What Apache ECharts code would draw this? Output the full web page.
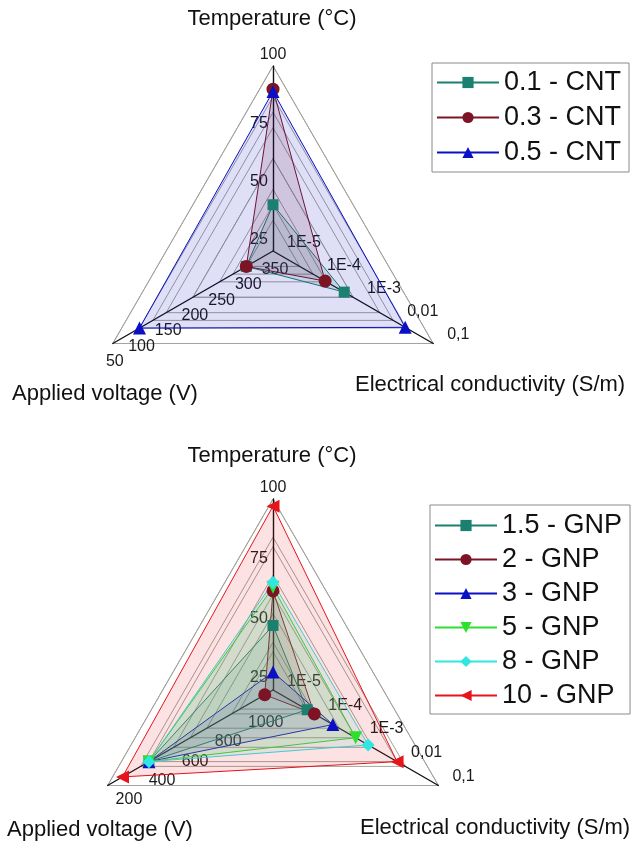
<!DOCTYPE html>
<html><head><meta charset="utf-8">
<script src="https://cdn.jsdelivr.net/npm/echarts@6/dist/echarts.min.js"></script>
<style>html,body{margin:0;padding:0;background:#fff}#c{width:631px;height:843px}</style>
</head><body><div id="c"></div>
<script>
// ---------- DATA: CNT panel (top) ----------
const cntNames = ['0.1 - CNT', '0.3 - CNT', '0.5 - CNT'];
const cntTemperature = [40, 90, 89];            // °C
const cntConductivity = [6e-4, 2e-4, 2e-2];     // S/m
const cntVoltage = [300, 300, 100];             // V

// ---------- DATA: GNP panel (bottom) ----------
const gnpNames = ['1.5 - GNP', '2 - GNP', '3 - GNP', '5 - GNP', '8 - GNP', '10 - GNP'];
const gnpTemperature = [47, 61.5, 27.5, 63, 65, 97];
const gnpConductivity = [6.7e-5, 1e-4, 2.8e-4, 1e-3, 2e-3, 1e-2];
const gnpVoltage = [450, 1150, 450, 450, 450, 290];

// ---------- AXES / TICKS ----------
const tempRange = [20, 100];
const tempTicks = [25, 50, 75, 100];
const condRange = [1e-5, 0.1];
const condTickLabels = ['1E-5', '1E-4', '1E-3', '0,01', '0,1'];
const cntVoltRange = [350, 50];     // centre -> outer vertex
const cntVoltTicks = [350, 300, 250, 200, 150, 100, 50];
const gnpVoltRange = [1200, 200];
const gnpVoltTicks = [1000, 800, 600, 400, 200];

const axisTitles = ['Temperature (\u00B0C)', 'Applied voltage (V)', 'Electrical conductivity (S/m)'];

// ---------- STYLE ----------
const FONT = '"Liberation Sans", Arial, sans-serif';
const cntColors = ['#1c8070', '#7d1426', '#0b10c4'];
const cntSymbols = ['rect', 'circle', 'triangle'];
const cntRot = [0, 0, 0];
const gnpColors = ['#1c8070', '#7d1426', '#0b10c4', '#2ee02e', '#30e6e0', '#e8141b'];
const gnpSymbols = ['rect', 'circle', 'triangle', 'triangle', 'diamond', 'triangle'];
const gnpRot = [0, 0, 0, 180, 0, 90];

const lg = v => Math.round(Math.log10(v) * 1e6) / 1e6;
const condMin = lg(condRange[0]);

const labelBase = {show: true, fontSize: 16, color: '#1a1a1a', fontFamily: FONT, margin: 10,
  showMinLabel: true, showMaxLabel: true};

function indicators(vRange, which, fmts, lo) {
  const off = {show: false};
  const mk = k => Object.assign({}, labelBase, lo[k], {formatter: fmts[k]});
  return [
    {name: '', min: tempRange[0], max: tempRange[1], axisLabel: which === 'T' ? mk('T') : off},
    {name: '', min: -vRange[0], max: -vRange[1], axisLabel: which === 'V' ? mk('V') : off},
    {name: '', min: lg(condRange[0]), max: lg(condRange[1]), axisLabel: which === 'C' ? mk('C') : off}
  ];
}

function radarComp(center, radius, splitNumber, vRange, which, fmts, lo, showAxis, showSplit) {
  return {
    center: center, radius: radius, startAngle: 90, shape: 'polygon', splitNumber: splitNumber,
    axisName: {show: false},
    axisLine: {show: showAxis, lineStyle: {color: '#111', width: 1.4}},
    axisTick: {show: false},
    axisLabel: {show: false},
    splitLine: {show: showSplit, lineStyle: {color: '#a4a49c', width: 1}},
    splitArea: {show: false},
    indicator: indicators(vRange, which, fmts, lo)
  };
}

const tempMax = tempTicks[tempTicks.length - 1];

function panel(cfg) {
  const fmts = {
    T: v => {
      const r = Math.round(v);
      if (tempTicks.indexOf(r) < 0) return '';
      return r === tempMax ? '{top|' + r + '}' : '{n|' + r + '}';
    },
    V: v => (cfg.voltTicks.indexOf(Math.round(-v)) >= 0 ? String(Math.round(-v)) : ''),
    C: v => condTickLabels[Math.round(v - condMin)] || ''
  };
  const base = cfg.radarBase;
  const lo = cfg.labelOpts;
  const radars = [
    radarComp(cfg.center, cfg.radius, 4, cfg.voltRange, 'C', fmts, lo, true, true),
    radarComp(cfg.center, cfg.radius, cfg.voltSplit, cfg.voltRange, 'V', fmts, lo, false, true),
    radarComp(cfg.center, cfg.radius, 16, cfg.voltRange, 'T', fmts, lo, false, false)
  ];
  const lines = cfg.names.map((n, i) => ({
    type: 'line', name: n, data: [], xAxisIndex: 0, yAxisIndex: 0,
    symbol: cfg.symbols[i], symbolRotate: cfg.rot[i], symbolSize: 11,
    itemStyle: {color: cfg.colors[i]}, lineStyle: {color: cfg.colors[i], width: 1}
  }));
  const series = cfg.names.map((n, i) => ({
    type: 'radar', name: n, radarIndex: base,
    symbol: cfg.symbols[i], symbolRotate: cfg.rot[i], symbolSize: cfg.symbols[i] === 'rect' ? 11 : 13,
    itemStyle: {color: cfg.colors[i]},
    lineStyle: {color: cfg.colors[i], width: 1},
    areaStyle: {color: cfg.colors[i], opacity: cfg.areaOpacity},
    data: [{name: n, value: [cfg.temps[i], -cfg.volts[i], Math.log10(cfg.conds[i])]}]
  }));
  const legend = {
    orient: 'vertical', left: cfg.legendLeft, top: cfg.legendTop, data: cfg.names,
    itemWidth: 62, itemHeight: 14, itemGap: cfg.legendGap,
    textStyle: {fontSize: 27, color: '#111', fontFamily: FONT},
    borderColor: '#8a8a8a', borderWidth: 1, padding: cfg.legendPad,
    backgroundColor: '#fff', selectedMode: false
  };
  return {radars, lines, series, legend};
}

const tempLabel = {
  margin: 6, align: 'center', verticalAlign: 'middle',
  rich: {
    n: {fontSize: 16, fontFamily: FONT, color: '#1a1a1a', padding: [0, 16, 0, 0]},
    top: {fontSize: 16, fontFamily: FONT, color: '#1a1a1a', padding: [0, 0, 22, 12]}
  }
};

const topPanel = panel({
  center: [273, 251], radius: 185, voltRange: cntVoltRange, voltSplit: 6, voltTicks: cntVoltTicks,
  names: cntNames, temps: cntTemperature, conds: cntConductivity, volts: cntVoltage,
  colors: cntColors, symbols: cntSymbols, rot: cntRot, areaOpacity: 0.13, radarBase: 0,
  legendLeft: 432, legendTop: 63, legendGap: 8, legendPad: [6, 8, 6, 4],
  labelOpts: {
    T: tempLabel,
    V: {align: 'center', verticalAlign: 'top', margin: 12, padding: [0, 8, 0, 0]},
    C: {align: 'left', verticalAlign: 'middle', margin: 10, padding: [0, 0, 0, 9]}
  }
});
const botPanel = panel({
  center: [273, 690], radius: 191, voltRange: gnpVoltRange, voltSplit: 5, voltTicks: gnpVoltTicks,
  names: gnpNames, temps: gnpTemperature, conds: gnpConductivity, volts: gnpVoltage,
  colors: gnpColors, symbols: gnpSymbols, rot: gnpRot, areaOpacity: 0.12, radarBase: 3,
  legendLeft: 430, legendTop: 505, legendGap: 7, legendPad: [7, 8, 5, 4],
  labelOpts: {
    T: tempLabel,
    V: {align: 'left', verticalAlign: 'middle', margin: 16},
    C: {align: 'left', verticalAlign: 'middle', margin: 10, padding: [0, 0, 0, 9]}
  }
});

function title(text, x, y, align) {
  return {type: 'text', x: x, y: y, z: 50,
    style: {text: text, fontSize: 22, fontFamily: FONT, fill: '#111', align: align || 'center', verticalAlign: 'middle'}};
}

const option = {
  animation: false,
  backgroundColor: '#fff',
  grid: {left: -200, top: -200, width: 10, height: 10, show: false},
  xAxis: {show: false, type: 'value'},
  yAxis: {show: false, type: 'value'},
  radar: topPanel.radars.concat(botPanel.radars),
  legend: [topPanel.legend, botPanel.legend],
  series: topPanel.lines.concat(botPanel.lines, topPanel.series, botPanel.series),
  graphic: [
    title(axisTitles[0], 272, 19),
    title(axisTitles[1], 105, 394),
    title(axisTitles[2], 355, 385, 'left'),
    title(axisTitles[0], 272, 456),
    title(axisTitles[1], 100, 830),
    title(axisTitles[2], 360, 828, 'left')
  ]
};

const chart = echarts.init(document.getElementById('c'), null, {renderer: 'canvas'});
chart.setOption(option);
</script>
</body></html>
